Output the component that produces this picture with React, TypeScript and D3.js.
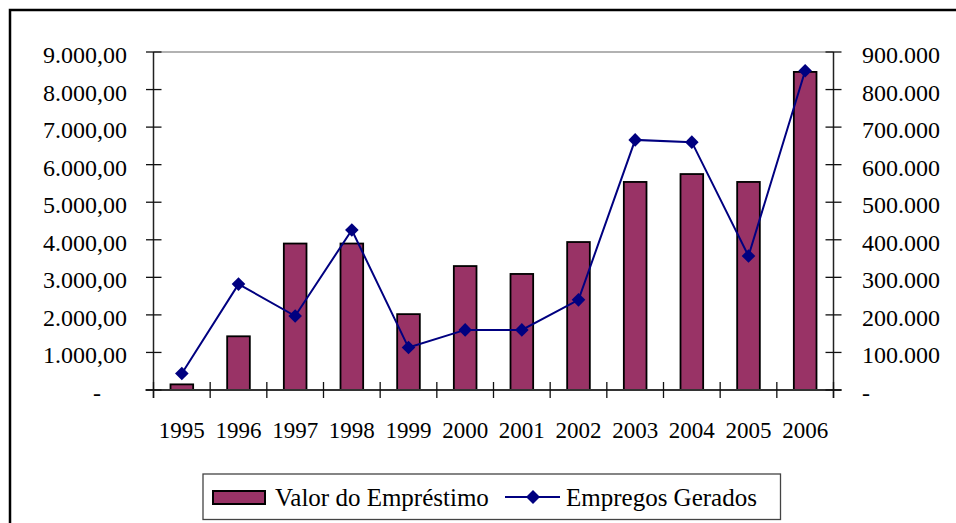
import React from "react";
import * as d3 from "d3";

const years = ["1995","1996","1997","1998","1999","2000","2001","2002","2003","2004","2005","2006"];
const valorEmprestimo = [150, 1430, 3900, 3900, 2020, 3300, 3090, 3940, 5540, 5750, 5540, 8470];
const empregosGerados = [44000, 282000, 197000, 426000, 113000, 160000, 160000, 240000, 666000, 660000, 357000, 850000];
const leftTicks = [0, 1000, 2000, 3000, 4000, 5000, 6000, 7000, 8000, 9000];
const rightTicks = [0, 100000, 200000, 300000, 400000, 500000, 600000, 700000, 800000, 900000];

const W = 956, H = 523;
const X0 = 153.5, X1 = 833.5, Y0 = 52, Y1 = 390;
const FONT = "Liberation Serif, DejaVu Serif, serif";
const BAR = "#993366";
const LINE = "#000080";

const fmtLeft = (v: number) => {
  if (v === 0) return "-";
  const s = d3.format(",.2f")(v);
  return s.replace(/,/g, "#").replace(/\./g, ",").replace(/#/g, ".");
};
const fmtRight = (v: number) => (v === 0 ? "-" : d3.format(",")(v).replace(/,/g, "."));

const tickTxt: React.CSSProperties = { fontFamily: FONT, fontSize: 24 };
const xTxt: React.CSSProperties = { fontFamily: FONT, fontSize: 23 };
const legTxt: React.CSSProperties = { fontFamily: FONT, fontSize: 25 };

export default function App() {
  const x = d3.scaleBand<string>().domain(years).range([X0, X1]).paddingInner(0).paddingOuter(0);
  const bw = x.bandwidth() * 0.4;
  const yL = d3.scaleLinear().domain([0, 9000]).range([Y1, Y0]);
  const yR = d3.scaleLinear().domain([0, 900000]).range([Y1, Y0]);
  const cx = (c: string) => (x(c) as number) + x.bandwidth() / 2;
  const line = d3.line<number>().x((_, i) => cx(years[i])).y((d) => yR(d));
  const diamond = (px: number, py: number, r = 6.8) =>
    `M${px},${py - r}L${px + r},${py}L${px},${py + r}L${px - r},${py}Z`;
  const bounds = [...years.map((c) => x(c) as number), X1];

  return (
    <svg width={W} height={H} style={{ position: "absolute", left: 0, top: 0, background: "#fff" }}>
      <rect x={0} y={0} width={W} height={H} fill="#fff" />
      <rect x={10} y={10} width={W + 20} height={H + 20} fill="none" stroke="#000" strokeWidth={2.5} />
      <line x1={X0} x2={X1} y1={Y0} y2={Y0} stroke="#999" strokeWidth={1.5} />
      {years.map((c, i) => (
        <rect key={c} x={cx(c) - bw / 2} y={yL(valorEmprestimo[i])} width={bw}
          height={Y1 - yL(valorEmprestimo[i])} fill={BAR} stroke="#000" strokeWidth={1.8} />
      ))}
      <line x1={X0} x2={X0} y1={Y0} y2={Y1 + 8} stroke="#222" strokeWidth={1.5} />
      <line x1={X1} x2={X1} y1={Y0} y2={Y1 + 8} stroke="#222" strokeWidth={1.5} />
      <line x1={X0 - 8} x2={X1 + 8} y1={Y1} y2={Y1} stroke="#333" strokeWidth={2} />
      {leftTicks.map((t) => (
        <g key={"l" + t}>
          <line x1={X0 - 7.5} x2={X0 + 8} y1={yL(t)} y2={yL(t)} stroke="#111" strokeWidth={1.3} />
          <text x={t === 0 ? 101 : 127} y={yL(t) + 11} textAnchor="end" style={tickTxt}>{fmtLeft(t)}</text>
        </g>
      ))}
      {rightTicks.map((t) => (
        <g key={"r" + t}>
          <line x1={X1 - 8} x2={X1 + 8} y1={yR(t)} y2={yR(t)} stroke="#111" strokeWidth={1.3} />
          <text x={862} y={yR(t) + 11} textAnchor="start" style={tickTxt}>{fmtRight(t)}</text>
        </g>
      ))}
      {bounds.map((b, i) => (
        <line key={"b" + i} x1={b} x2={b} y1={Y1 - 8} y2={Y1 + 8} stroke="#111" strokeWidth={1.3} />
      ))}
      {years.map((c) => (
        <text key={"x" + c} x={cx(c)} y={437.5} textAnchor="middle" style={xTxt}>{c}</text>
      ))}
      <path d={line(empregosGerados) || ""} fill="none" stroke={LINE} strokeWidth={2} />
      {empregosGerados.map((v, i) => (
        <path key={"m" + i} d={diamond(cx(years[i]), yR(v))} fill={LINE} />
      ))}
      <rect x={203} y={474} width={577.5} height={45.5} fill="#fff" stroke="#444" strokeWidth={1.3} />
      <rect x={213} y={491} width={52} height={13} fill={BAR} stroke="#000" strokeWidth={2} />
      <text x={275} y={505.5} style={legTxt}>Valor do Empréstimo</text>
      <line x1={505} x2={560} y1={497} y2={497} stroke={LINE} strokeWidth={2} />
      <path d={diamond(533, 497, 7)} fill={LINE} />
      <text x={566} y={505.5} style={legTxt}>Empregos Gerados</text>
    </svg>
  );
}
